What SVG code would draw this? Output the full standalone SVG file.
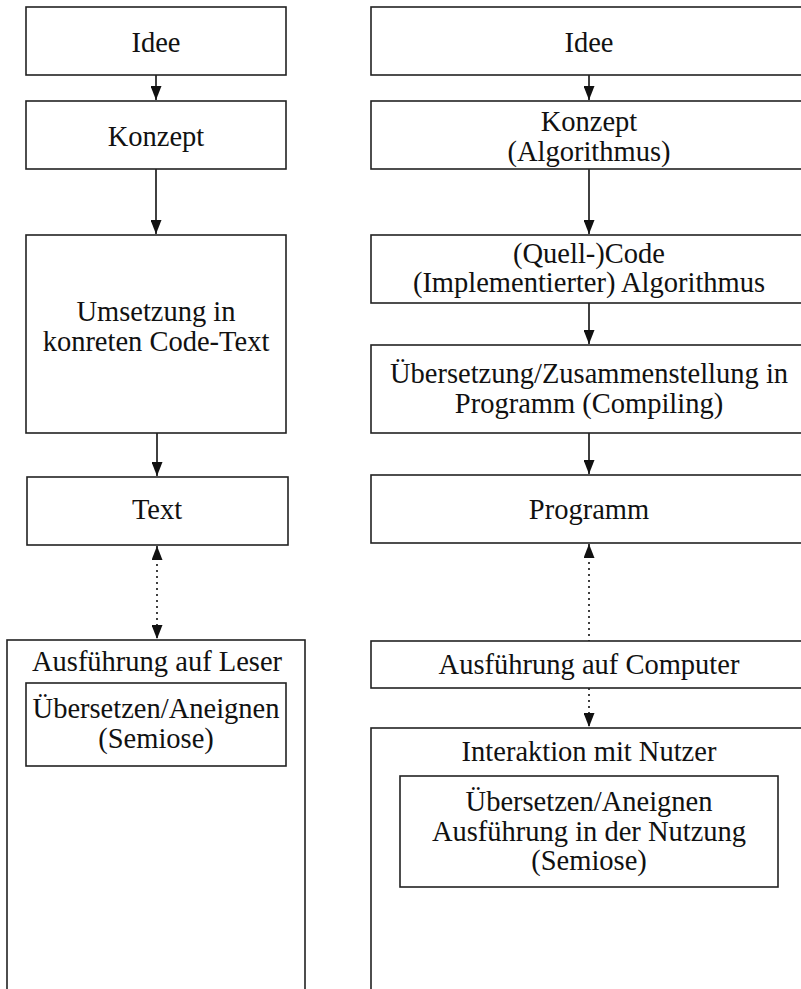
<svg xmlns="http://www.w3.org/2000/svg" width="801" height="989" viewBox="0 0 801 989">
<style>
.box{fill:#fff;stroke:#222;stroke-width:1.6}
.t{font-family:"Liberation Serif","DejaVu Serif",serif;font-size:28.5px;fill:#111;text-anchor:middle}
.c{stroke:#111;stroke-width:1.6;fill:none}
.d{stroke:#111;stroke-width:1.6;fill:none;stroke-dasharray:2 4}
</style>
<defs>
<marker id="ah2" viewBox="0 0 14 11" refX="14" refY="5.5" markerWidth="14" markerHeight="11" markerUnits="userSpaceOnUse" orient="auto">
<path d="M0,0 L14,5.5 L0,11 Z" fill="#111"/>
</marker>
<marker id="as" viewBox="0 0 14 11" refX="0" refY="5.5" markerWidth="14" markerHeight="11" markerUnits="userSpaceOnUse" orient="auto">
<path d="M14,0 L0,5.5 L14,11 Z" fill="#111"/>
</marker>
</defs>

<g id="connectors">
<line class="c" x1="156" y1="75" x2="156" y2="100" marker-end="url(#ah2)"/>
<line class="c" x1="156" y1="169" x2="156" y2="234" marker-end="url(#ah2)"/>
<line class="c" x1="157" y1="433" x2="157" y2="476" marker-end="url(#ah2)"/>
<line class="d" x1="157" y1="546" x2="157" y2="639" marker-start="url(#as)" marker-end="url(#ah2)"/>
<line class="c" x1="589" y1="75" x2="589" y2="100" marker-end="url(#ah2)"/>
<line class="c" x1="589" y1="169" x2="589" y2="234" marker-end="url(#ah2)"/>
<line class="c" x1="589" y1="303" x2="589" y2="344" marker-end="url(#ah2)"/>
<line class="c" x1="589" y1="433" x2="589" y2="474" marker-end="url(#ah2)"/>
<line class="d" x1="589" y1="544" x2="589" y2="641" marker-start="url(#as)"/>
<line class="d" x1="589" y1="688" x2="589" y2="727" marker-end="url(#ah2)"/>
</g>

<g id="l-idee"><rect class="box" x="26" y="7" width="260" height="68"/><text class="t" x="156" y="52">Idee</text></g>
<g id="l-konzept"><rect class="box" x="26" y="101" width="260" height="68"/><text class="t" x="156" y="146">Konzept</text></g>
<g id="l-umsetzung"><rect class="box" x="26" y="235" width="260" height="198"/><text class="t" x="156" y="321">Umsetzung in</text><text class="t" x="156" y="351">konreten Code-Text</text></g>
<g id="l-text"><rect class="box" x="27" y="477" width="261" height="68"/><text class="t" x="157" y="519">Text</text></g>
<g id="l-leser"><rect class="box" x="7" y="640" width="298" height="360"/><text class="t" x="157" y="671">Ausführung auf Leser</text>
<g id="l-semiose"><rect class="box" x="26" y="683" width="260" height="83"/><text class="t" x="156" y="718">Übersetzen/Aneignen</text><text class="t" x="156" y="748">(Semiose)</text></g></g>

<g id="r-idee"><rect class="box" x="371" y="7" width="440" height="68"/><text class="t" x="589" y="52">Idee</text></g>
<g id="r-konzept"><rect class="box" x="371" y="101" width="440" height="68"/><text class="t" x="589" y="131">Konzept</text><text class="t" x="589" y="161">(Algorithmus)</text></g>
<g id="r-code"><rect class="box" x="371" y="235" width="440" height="68"/><text class="t" x="589" y="263">(Quell-)Code</text><text class="t" x="589" y="292">(Implementierter) Algorithmus</text></g>
<g id="r-compile"><rect class="box" x="371" y="345" width="440" height="88"/><text class="t" x="589" y="383">Übersetzung/Zusammenstellung in</text><text class="t" x="589" y="413">Programm (Compiling)</text></g>
<g id="r-programm"><rect class="box" x="371" y="475" width="440" height="68"/><text class="t" x="589" y="519">Programm</text></g>
<g id="r-computer"><rect class="box" x="371" y="641" width="440" height="47"/><text class="t" x="589" y="674">Ausführung auf Computer</text></g>
<g id="r-nutzer"><rect class="box" x="371" y="728" width="440" height="300"/><text class="t" x="589" y="761">Interaktion mit Nutzer</text>
<g id="r-semiose"><rect class="box" x="400" y="776" width="378" height="111"/><text class="t" x="589" y="811">Übersetzen/Aneignen</text><text class="t" x="589" y="841">Ausführung in der Nutzung</text><text class="t" x="589" y="870">(Semiose)</text></g></g>
</svg>
